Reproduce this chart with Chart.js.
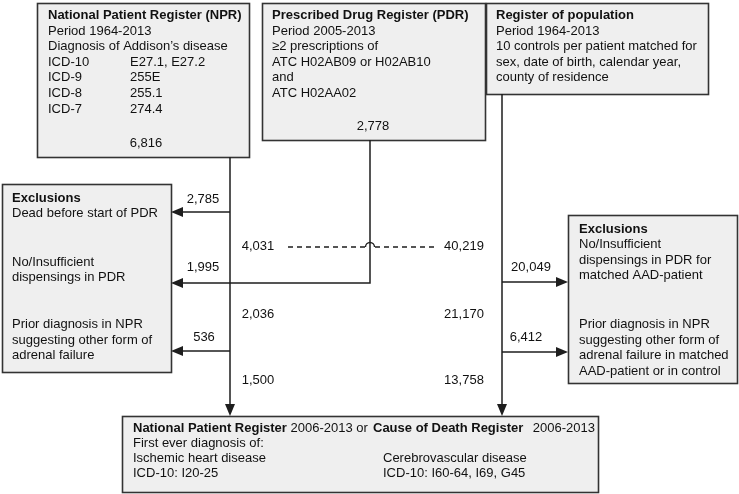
<!DOCTYPE html>
<html>
<head>
<meta charset="utf-8">
<script src="https://cdn.jsdelivr.net/npm/chart.js@4/dist/chart.umd.min.js"></script>
<style>
html,body{margin:0;padding:0;background:#fff;}
canvas{display:block;}
</style>
</head>
<body>
<canvas id="c" width="739" height="494"></canvas>
<script>
// ---- Data (counts shown in the flow chart) ----
const patientFlow = [6816, 2785, 4031, 1995, 2036, 536, 1500];   // AAD patients: start, excl., remain, excl., remain, excl., final
const controlFlow = [40219, 20049, 21170, 6412, 13758];          // controls: start, excl., remain, excl., final
const pdrCount = [2778];

const nprLines = ["National Patient Register (NPR)", "Period 1964-2013", "Diagnosis of Addison\u2019s disease"];
const icdCodes = ["ICD-10", "ICD-9", "ICD-8", "ICD-7"];
const icdValues = ["E27.1, E27.2", "255E", "255.1", "274.4"];
const pdrLines = ["Prescribed Drug Register (PDR)", "Period 2005-2013", "\u22652 prescriptions of", "ATC H02AB09 or H02AB10", "and", "ATC H02AA02"];
const popLines = ["Register of population", "Period 1964-2013", "10 controls per patient matched for", "sex, date of birth, calendar year,", "county of residence"];
const exclLeft = [["Exclusions", "Dead before start of PDR"], ["No/Insufficient", "dispensings in PDR"], ["Prior diagnosis in NPR", "suggesting other form of", "adrenal failure"]];
const exclRight = [["Exclusions", "No/Insufficient", "dispensings in PDR for", "matched AAD-patient"], ["Prior diagnosis in NPR", "suggesting other form of", "adrenal failure in matched", "AAD-patient or in control"]];
const outcomeLeft = ["First ever diagnosis of:", "Ischemic heart disease", "ICD-10: I20-25"];
const outcomeRight = ["Cerebrovascular disease", "ICD-10: I60-64, I69, G45"];

// ---- Layout (diagram coordinates) ----
const L = {
  boxes: [
    {x1: 37, y1: 3, x2: 249, y2: 157},
    {x1: 262, y1: 3, x2: 485, y2: 140},
    {x1: 486, y1: 3, x2: 708, y2: 94},
    {x1: 2, y1: 184, x2: 171, y2: 372},
    {x1: 568, y1: 215, x2: 737, y2: 383},
    {x1: 122, y1: 416, x2: 598, y2: 492}
  ],
  xN: 230, xP: 370, xC: 502
};

const fmt = v => v.toLocaleString('en-US');
const lineColor = '#1e1e1e';
const seg = (pts, dash) => ({
  data: pts.map(p => ({x: p[0], y: p[1]})),
  showLine: true, pointRadius: 0, borderColor: lineColor, borderWidth: 1.5,
  borderDash: dash || [], fill: false, tension: 0
});

const datasets = [
  seg([[L.xN, 157], [L.xN, 405]]),
  seg([[L.xP, 140], [L.xP, 283], [182, 283]]),
  seg([[L.xC, 94], [L.xC, 405]]),
  seg([[L.xN, 212], [182, 212]]),
  seg([[L.xN, 351], [182, 351]]),
  seg([[L.xC, 282], [557, 282]]),
  seg([[L.xC, 352], [557, 352]]),
  seg([[288, 247], [365, 247]], [5, 4]),
  seg([[375, 247], [434, 247]], [5, 4])
];

const arrows = [
  {x: 171, y: 212, d: 'left'}, {x: 171, y: 283, d: 'left'}, {x: 171, y: 351, d: 'left'},
  {x: 568, y: 282, d: 'right'}, {x: 568, y: 352, d: 'right'},
  {x: L.xN, y: 416, d: 'down'}, {x: L.xC, y: 416, d: 'down'}
];

const FONT = '"Liberation Sans", Arial, Helvetica, sans-serif';

const flowPlugin = {
  id: 'flow',
  beforeDatasetsDraw(chart) {
    const {ctx} = chart;
    const X = v => chart.scales.x.getPixelForValue(v);
    const Y = v => chart.scales.y.getPixelForValue(v);
    ctx.save();
    L.boxes.forEach(b => {
      const x1 = Math.round(X(b.x1)) + 0.5, y1 = Math.round(Y(b.y1)) + 0.5;
      const x2 = Math.round(X(b.x2)) + 0.5, y2 = Math.round(Y(b.y2)) + 0.5;
      ctx.fillStyle = '#efefef';
      ctx.fillRect(x1, y1, x2 - x1, y2 - y1);
      ctx.strokeStyle = '#333333';
      ctx.lineWidth = 1.6;
      ctx.strokeRect(x1, y1, x2 - x1, y2 - y1);
    });
    ctx.restore();
  },
  afterDatasetsDraw(chart) {
    const {ctx} = chart;
    const X = v => chart.scales.x.getPixelForValue(v);
    const Y = v => chart.scales.y.getPixelForValue(v);
    ctx.save();
    // hop over vertical line
    ctx.strokeStyle = lineColor; ctx.lineWidth = 1.3;
    ctx.beginPath();
    ctx.arc(X(L.xP), Y(247), 4.5, Math.PI, 0);
    ctx.stroke();
    // arrowheads
    ctx.fillStyle = lineColor;
    arrows.forEach(a => {
      const x = X(a.x), y = Y(a.y), len = 12, hw = 5;
      ctx.beginPath();
      if (a.d === 'left') { ctx.moveTo(x, y); ctx.lineTo(x + len, y - hw); ctx.lineTo(x + len, y + hw); }
      if (a.d === 'right') { ctx.moveTo(x, y); ctx.lineTo(x - len, y - hw); ctx.lineTo(x - len, y + hw); }
      if (a.d === 'down') { ctx.moveTo(x, y); ctx.lineTo(x - hw, y - len); ctx.lineTo(x + hw, y - len); }
      ctx.closePath(); ctx.fill();
    });
    // text
    ctx.fillStyle = '#111';
    ctx.textBaseline = 'middle';
    const txt = (s, x, y, bold, align) => {
      ctx.font = (bold ? 'bold ' : '') + '13px ' + FONT;
      ctx.textAlign = align || 'left';
      ctx.fillText(s, X(x), Y(y));
      return ctx.measureText(s).width;
    };
    const LH = 15.6;
    // NPR box
    nprLines.forEach((s, i) => txt(s, 48, 15.5 + i * LH, i === 0));
    icdCodes.forEach((s, i) => txt(s, 48, 15.5 + (i + 3) * LH, false));
    icdValues.forEach((s, i) => txt(s, 130, 15.5 + (i + 3) * LH, false));
    txt(fmt(patientFlow[0]), 146, 143, false, 'center');
    // PDR box
    pdrLines.forEach((s, i) => txt(s, 272, 15.5 + i * LH, i === 0));
    txt(fmt(pdrCount[0]), 373, 126, false, 'center');
    // Population box
    popLines.forEach((s, i) => txt(s, 496, 15.5 + i * LH, i === 0));
    // Left exclusions
    const lStart = [198, 262, 324.5];
    exclLeft.forEach((grp, g) => grp.forEach((s, i) => txt(s, 12, lStart[g] + i * LH, g === 0 && i === 0)));
    // Right exclusions
    const rStart = [229, 324.5];
    exclRight.forEach((grp, g) => grp.forEach((s, i) => txt(s, 579, rStart[g] + i * LH, g === 0 && i === 0)));
    // flow numbers - patients
    txt(fmt(patientFlow[1]), 203, 199, false, 'center');
    txt(fmt(patientFlow[2]), 258, 246, false, 'center');
    txt(fmt(patientFlow[3]), 203, 267, false, 'center');
    txt(fmt(patientFlow[4]), 258, 314, false, 'center');
    txt(fmt(patientFlow[5]), 204, 337, false, 'center');
    txt(fmt(patientFlow[6]), 258, 380, false, 'center');
    // flow numbers - controls
    txt(fmt(controlFlow[0]), 464, 246, false, 'center');
    txt(fmt(controlFlow[1]), 531, 267, false, 'center');
    txt(fmt(controlFlow[2]), 464, 314, false, 'center');
    txt(fmt(controlFlow[3]), 526, 337, false, 'center');
    txt(fmt(controlFlow[4]), 464, 380, false, 'center');
    // Outcome box
    let w = txt("National Patient Register", 133, 428, true);
    txt(" 2006-2013 or", 133 + w, 428, false);
    txt("Cause of Death Register", 373, 428, true);
    txt("2006-2013", 595, 428, false, 'right');
    outcomeLeft.forEach((s, i) => txt(s, 133, 443 + i * 15, false));
    outcomeRight.forEach((s, i) => txt(s, 383, 458 + i * 15, false));
    ctx.restore();
  }
};

new Chart(document.getElementById('c'), {
  type: 'scatter',
  data: {datasets},
  options: {
    responsive: false,
    animation: false,
    devicePixelRatio: 1,
    layout: {padding: 0},
    plugins: {legend: {display: false}, tooltip: {enabled: false}},
    scales: {
      x: {type: 'linear', min: 0, max: 739, display: false},
      y: {type: 'linear', min: 0, max: 494, reverse: true, display: false}
    }
  },
  plugins: [flowPlugin]
});
</script>
</body>
</html>
